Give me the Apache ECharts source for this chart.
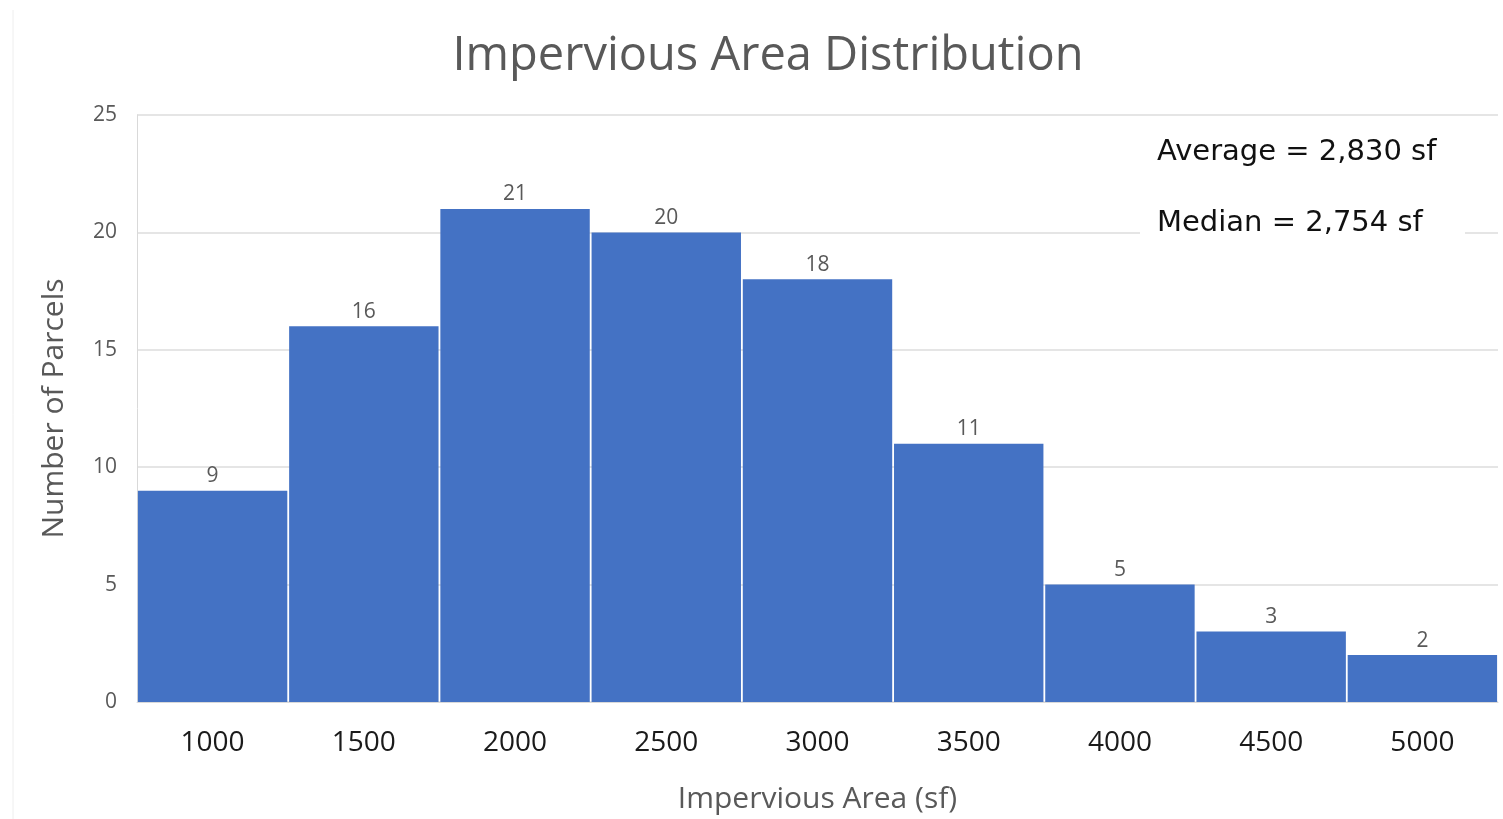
<!DOCTYPE html>
<html>
<head>
<meta charset="utf-8">
<script src="https://cdn.jsdelivr.net/npm/echarts@6/dist/echarts.min.js"></script>
<style>
  html, body { margin: 0; padding: 0; background: #fff; }
  #chart { width: 1503px; height: 819px; }
</style>
</head>
<body>
<div id="chart"></div>
<script>
// Bin labels (sf) and parcel counts per bin
const binLabels = ['1000', '1500', '2000', '2500', '3000', '3500', '4000', '4500', '5000'];
const parcelCounts = [9, 16, 21, 20, 18, 11, 5, 3, 2];
const yTicks = { min: 0, max: 25, interval: 5 };
const statLines = ['Average = 2,830 sf', 'Median = 2,754 sf'];

const chart = echarts.init(document.getElementById('chart'));
const font = '"Open Sans", "Noto Sans", sans-serif';

chart.setOption({
  animation: false,
  backgroundColor: '#ffffff',
  title: {
    text: 'Impervious Area Distribution',
    left: 763,
    textAlign: 'center',
    top: 28,
    textStyle: { fontFamily: font, fontSize: 47, fontWeight: 'normal', color: '#595959' }
  },
  grid: { left: 137, right: 5, top: 115, bottom: 116 },
  xAxis: {
    type: 'category',
    data: binLabels,
    name: 'Impervious Area (sf)',
    nameLocation: 'middle',
    nameGap: 82,
    nameTextStyle: { fontFamily: font, fontSize: 30, color: '#595959' },
    axisLine: { show: true, lineStyle: { color: '#d9d9d9', width: 1 } },
    axisTick: { show: false },
    axisLabel: { fontFamily: font, fontSize: 28, color: '#1a1a1a', margin: 27 }
  },
  yAxis: {
    type: 'value',
    min: yTicks.min,
    max: yTicks.max,
    interval: yTicks.interval,
    name: 'Number of Parcels',
    nameLocation: 'middle',
    nameGap: 68,
    nameTextStyle: { fontFamily: font, fontSize: 30, color: '#595959' },
    axisLine: { show: true, lineStyle: { color: '#d9d9d9', width: 1 } },
    axisTick: { show: false },
    axisLabel: { fontFamily: font, fontSize: 21, color: '#595959', margin: 20 },
    splitLine: { lineStyle: { color: '#dcdcdc', width: 1.5 } }
  },
  series: [{
    type: 'bar',
    data: parcelCounts,
    barCategoryGap: '1.2%',
    itemStyle: { color: '#4472c4' },
    label: {
      show: true,
      position: 'top',
      distance: 4,
      fontFamily: font,
      fontSize: 21,
      color: '#595959'
    }
  }],
  graphic: [
    {
      type: 'line',
      shape: { x1: 13, y1: 10, x2: 13, y2: 819 },
      style: { stroke: '#eeeeee', lineWidth: 1 }
    },
    {
      type: 'rect',
      shape: { x: 1140, y: 128, width: 325, height: 122 },
      style: { fill: '#ffffff' },
      z: 50
    },
    {
      type: 'text',
      left: 1157,
      top: 138,
      z: 51,
      style: { text: statLines[0], font: '29px "DejaVu Sans", sans-serif', fill: '#111111' }
    },
    {
      type: 'text',
      left: 1157,
      top: 209,
      z: 51,
      style: { text: statLines[1], font: '29px "DejaVu Sans", sans-serif', fill: '#111111' }
    }
  ]
});
</script>
</body>
</html>
